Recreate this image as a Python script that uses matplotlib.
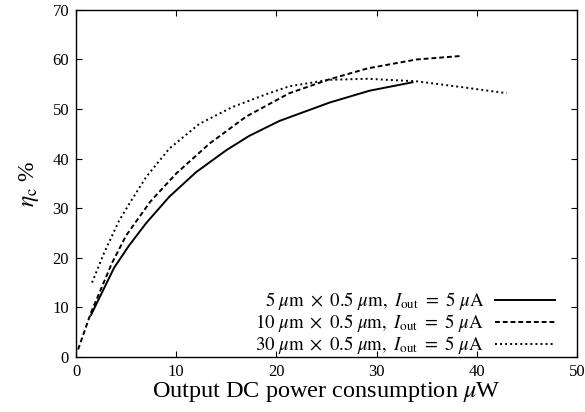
import matplotlib
matplotlib.use("Agg")
import matplotlib.pyplot as plt

plt.rcParams['font.family'] = ['Liberation Serif', 'DejaVu Serif']
plt.rcParams['mathtext.fontset'] = 'stix'

# 5 um x 0.5 um
x5 = [1.5, 3.8, 5.3, 7.0, 9.3, 12.0, 15.0, 17.3, 20.3, 25.3, 29.3, 33.6]
y5 = [8.5, 18.0, 22.5, 27.0, 32.3, 37.3, 41.7, 44.6, 47.6, 51.3, 53.7, 55.4]
# 10 um x 0.5 um
x10 = [0.2, 1.5, 3.6, 5.0, 7.4, 10.0, 13.3, 17.0, 21.3, 25.3, 29.1, 34.0, 38.4]
y10 = [1.5, 9.0, 19.0, 24.5, 31.3, 37.0, 43.0, 48.5, 53.2, 56.0, 58.2, 60.0, 60.7]
# 30 um x 0.5 um
x30 = [1.6, 2.8, 4.3, 5.5, 7.0, 9.3, 12.3, 15.6, 19.0, 21.3, 25.3, 29.1, 34.0, 38.6, 43.0]
y30 = [15.0, 21.0, 27.5, 31.5, 36.3, 42.0, 47.0, 50.4, 53.0, 54.6, 55.9, 56.1, 55.6, 54.4, 53.2]

labels = [r'$5\ \mu{\rm m}\ \times\ 0.5\ \mu{\rm m},\ I_{\rm out}\ =\ 5\ \mu{\rm A}$',
          r'$10\ \mu{\rm m}\ \times\ 0.5\ \mu{\rm m},\ I_{\rm out}\ =\ 5\ \mu{\rm A}$',
          r'$30\ \mu{\rm m}\ \times\ 0.5\ \mu{\rm m},\ I_{\rm out}\ =\ 5\ \mu{\rm A}$']

fig = plt.figure(figsize=(5.85, 4.12), dpi=100)
ax = fig.add_axes([0.130, 0.1335, 0.856, 0.8425])

ax.plot(x5, y5, color='black', lw=1.4, linestyle='-', label=labels[0])
ax.plot(x10, y10, color='black', lw=1.4, linestyle=(0, (2.5, 1.5)), label=labels[1])
ax.plot(x30, y30, color='black', lw=1.4, linestyle=(0, (1, 1.6)), label=labels[2])

ax.set_xlim(0, 50)
ax.set_ylim(0, 70)
ax.set_xticks([0, 10, 20, 30, 40, 50])
ax.set_yticks([0, 10, 20, 30, 40, 50, 60, 70])
ax.tick_params(direction='in', top=True, right=True, labelsize=12, length=4, pad=5)
for s in ax.spines.values():
    s.set_linewidth(1.0)

ax.set_xlabel(r'Output DC power consumption $\mu$W', fontsize=17.5, labelpad=0)
ax.set_ylabel(r'$\eta_{\rm c}$ %', fontsize=17, labelpad=8)

leg = ax.legend(loc='lower right', bbox_to_anchor=(0.972, -0.02), borderaxespad=0,
                frameon=False, markerfirst=False, fontsize=13.5,
                handlelength=3.2, labelspacing=0.0, handletextpad=0.6)

fig.savefig('out.png', dpi=100)
